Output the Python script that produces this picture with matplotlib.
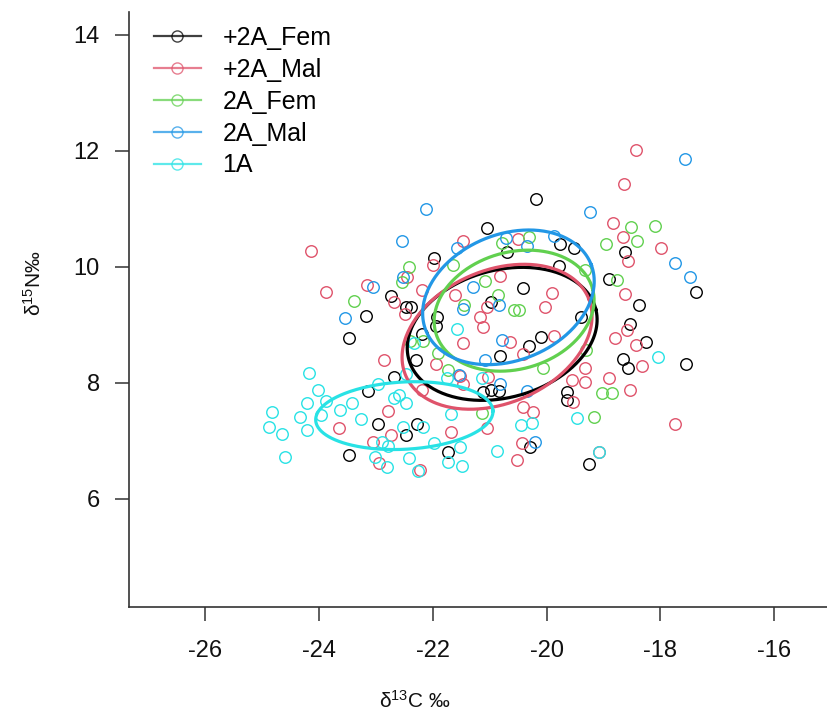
import numpy as np
import matplotlib
matplotlib.use("Agg")
import matplotlib.pyplot as plt
from matplotlib.lines import Line2D

plt.rcParams["font.family"] = ["Liberation Sans", "DejaVu Sans"]
plt.rcParams["mathtext.fontset"] = "custom"
plt.rcParams["mathtext.rm"] = "Liberation Sans"
plt.rcParams["mathtext.it"] = "Liberation Sans:italic"

groups = ["+2A_Fem", "+2A_Mal", "2A_Fem", "2A_Mal", "1A"]
colors = ["#000000", "#DF536B", "#61D04F", "#2297E6", "#28E2E5"]

# d13C / d15N values per group
fem2p_c = [-20.18, -21.04, -19.76, -19.52, -18.62, -20.69, -21.98, -19.78, -18.90, -17.37,
           -22.73, -22.47, -22.38, -23.17, -20.41, -20.97, -21.92, -21.94, -19.39, -18.53,
           -18.37, -23.47, -22.19, -20.09, -20.31, -18.25, -20.82, -22.29, -18.65, -18.57,
           -17.55, -22.68, -23.14, -21.11, -20.97, -20.83, -19.64, -19.64, -22.96, -22.27,
           -22.47, -23.47, -21.73, -20.29, -19.25]
fem2p_n = [11.17, 10.67, 10.39, 10.32, 10.25, 10.25, 10.15, 10.01, 9.79, 9.56,
           9.49, 9.31, 9.31, 9.15, 9.63, 9.39, 9.13, 8.98, 9.13, 9.01,
           9.34, 8.77, 8.84, 8.79, 8.63, 8.70, 8.46, 8.39, 8.41, 8.25,
           8.32, 8.10, 7.86, 7.84, 7.87, 7.86, 7.84, 7.70, 7.29, 7.29,
           7.10, 6.75, 6.81, 6.89, 6.60]

mal2p_c = [-18.43, -18.64, -18.83, -18.65, -18.57, -17.99, -24.14, -23.87, -23.15, -21.47,
           -20.50, -21.99, -22.45, -22.48, -22.68, -22.19, -21.61, -20.82, -21.04,
           -21.17, -21.11, -20.02, -19.90, -18.62, -18.58, -18.79, -18.43, -18.32, -19.87,
           -20.64, -21.47, -20.41, -22.85, -21.94, -19.32, -19.32, -18.90, -18.53, -19.55,
           -19.53, -20.41, -20.24, -21.47, -21.52, -21.03, -22.78, -23.65, -22.73, -23.05,
           -21.68, -21.04, -20.43, -22.94, -22.22, -20.52, -17.74, -19.08, -22.19]
mal2p_n = [12.01, 11.43, 10.75, 10.51, 10.10, 10.32, 10.27, 9.56, 9.68, 10.44,
           10.48, 10.03, 9.82, 9.18, 9.39, 9.60, 9.51, 9.84, 9.31,
           9.13, 8.96, 9.31, 9.55, 9.53, 8.91, 8.77, 8.65, 8.29, 8.81,
           8.70, 8.68, 8.49, 8.39, 8.32, 8.25, 8.01, 8.08, 7.87, 8.05,
           7.67, 7.58, 7.50, 7.98, 8.12, 8.10, 7.51, 7.22, 7.10, 6.98,
           7.15, 7.22, 6.96, 6.62, 6.50, 6.67, 7.29, 6.80, 7.87]

fem2_c = [-18.51, -18.09, -18.41, -18.95, -18.76, -20.31, -20.78, -21.64, -22.41, -22.54,
          -23.38, -21.08, -20.85, -21.45, -20.57, -20.48, -22.17, -22.40, -21.91, -21.73,
          -21.13, -20.06, -19.02, -18.85, -19.16, -19.32, -19.30]
fem2_n = [10.68, 10.70, 10.44, 10.39, 9.77, 10.51, 10.41, 10.03, 10.00, 9.74,
          9.41, 9.75, 9.51, 9.34, 9.25, 9.25, 8.72, 8.72, 8.51, 8.22,
          7.48, 8.25, 7.82, 7.82, 7.41, 9.94, 8.56]

mal2_c = [-17.56, -22.12, -19.23, -17.74, -17.48, -22.54, -21.57, -19.87, -20.34, -22.52,
          -23.05, -23.54, -21.29, -21.47, -20.83, -20.78, -21.08, -21.54, -20.82, -20.34,
          -20.20, -20.71]
mal2_n = [11.86, 10.99, 10.94, 10.06, 9.82, 10.44, 10.32, 10.53, 10.36, 9.82,
          9.65, 9.12, 9.65, 9.27, 9.34, 8.74, 8.39, 8.13, 7.98, 7.86,
          6.98, 10.49]

a1_c = [-24.17, -24.01, -24.21, -23.87, -23.42, -23.63, -23.96, -24.33, -24.82, -24.88,
        -24.65, -24.21, -23.26, -24.59, -22.96, -22.47, -22.68, -22.59, -22.47, -22.52,
        -22.89, -22.78, -23.01, -22.80, -22.41, -22.33, -21.75, -21.13, -21.68, -22.17,
        -21.98, -21.52, -21.73, -21.48, -22.26, -20.87, -20.45, -20.25, -21.57, -19.46,
        -18.04, -19.08]
a1_n = [8.17, 7.87, 7.65, 7.68, 7.65, 7.53, 7.44, 7.41, 7.50, 7.24,
        7.12, 7.18, 7.37, 6.72, 7.98, 8.15, 7.74, 7.79, 7.65, 7.24,
        6.98, 6.91, 6.72, 6.55, 6.70, 8.68, 8.08, 8.08, 7.46, 7.24,
        6.96, 6.89, 6.63, 6.56, 6.48, 6.82, 7.27, 7.31, 8.93, 7.39,
        8.44, 6.80]

# standard ellipses: centre (C, N), semi-axes, rotation (degrees)
ell_cx = [-20.78, -20.87, -20.57, -20.67, -22.50]
ell_cy = [8.84, 8.79, 9.24, 9.47, 7.43]
ell_a = [1.70, 1.74, 1.43, 1.56, 1.56]
ell_b = [1.10, 1.15, 1.01, 1.09, 0.58]
ell_ang = [14.5, 22.0, 15.0, 21.0, 3.0]

xs = [fem2p_c, mal2p_c, fem2_c, mal2_c, a1_c]
ys = [fem2p_n, mal2p_n, fem2_n, mal2_n, a1_n]

fig = plt.figure(figsize=(8.27, 7.20), dpi=100)
ax = fig.add_axes([129 / 827, 113 / 720, 698 / 827, 595 / 720])

for x, y, col in zip(xs, ys, colors):
    ax.plot(x, y, linestyle="none", marker="o", ms=8.3, mfc="none",
            mec=col, mew=1.0, zorder=2)

t = np.linspace(0, 2 * np.pi, 300)
for cx, cy, a, b, ang, col in zip(ell_cx, ell_cy, ell_a, ell_b, ell_ang, colors):
    th = np.deg2rad(ang)
    ex = cx + a * np.cos(t) * np.cos(th) - b * np.sin(t) * np.sin(th)
    ey = cy + a * np.cos(t) * np.sin(th) + b * np.sin(t) * np.cos(th)
    ax.plot(ex, ey, color=col, lw=2.3, zorder=3)

ax.set_xlim(-27.34, -15.07)
ax.set_ylim(4.13, 14.39)
ax.set_xticks([-26, -24, -22, -20, -18, -16])
ax.set_yticks([6, 8, 10, 12, 14])
ax.set_xticklabels(["-26", "-24", "-22", "-20", "-18", "-16"])
ax.set_yticklabels(["6", "8", "10", "12", "14"])
for side in ("top", "right"):
    ax.spines[side].set_visible(False)
for side in ("left", "bottom"):
    ax.spines[side].set_color("#333333")
    ax.spines[side].set_linewidth(1.2)
ax.tick_params(axis="both", direction="out", length=10, width=1.1,
               color="#333333", labelsize=17, labelcolor="#111111")
ax.tick_params(axis="x", pad=14)
ax.tick_params(axis="y", pad=11)

ax.set_xlabel(r"$\mathregular{\delta^{13}C}$ ‰", fontsize=15, color="#111111")
ax.xaxis.set_label_coords(286 / 698, -83 / 595)
ax.set_ylabel(r"$\mathregular{\delta^{15}N}$‰", fontsize=15, color="#111111")
ax.yaxis.set_label_coords(-84 / 698, 324 / 595)

handles = [Line2D([0], [0], color=c, lw=1.6, alpha=0.75, marker="o", ms=8,
                  mfc="none", mec=c, mew=1.0) for c in colors]
ax.legend(handles, groups, loc="upper left", bbox_to_anchor=(17 / 698, 1 - 6 / 595),
          frameon=False, fontsize=18, handlelength=1.88, handletextpad=0.88,
          labelspacing=0.32, borderpad=0.3, borderaxespad=0.0)

fig.savefig("out.png", dpi=100, facecolor="white")
